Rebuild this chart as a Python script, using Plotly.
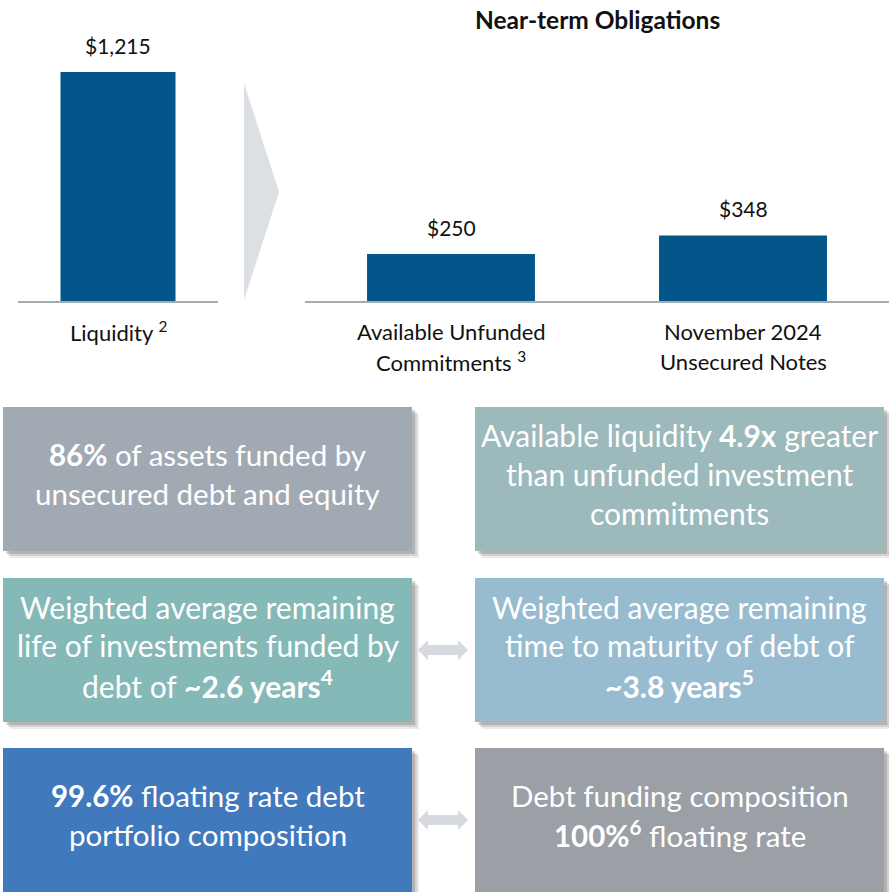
import plotly.graph_objects as go

# ---------------- data ----------------
liq_cats = ["Liquidity"]
liq_vals = [1215]
liq_labels = [["Liquidity <sup>2</sup>"]]

obl_cats = ["Available Unfunded Commitments", "November 2024 Unsecured Notes"]
obl_vals = [250, 348]
obl_labels = [["Available Unfunded", "Commitments <sup>3</sup>"],
              ["November 2024", "Unsecured Notes"]]

title_text = "<b>Near-term Obligations</b>"

box_lines = [
    ["<b>86%</b> of assets funded by", "unsecured debt and equity"],
    ["Available liquidity <b>4.9x</b> greater", "than unfunded investment", "commitments"],
    ["Weighted average remaining", "life of investments funded by", "debt of <b>~2.6 years<sup>4</sup></b>"],
    ["Weighted average remaining", "time to maturity of debt of", "<b>~3.8 years<sup>5</sup></b>"],
    ["<b>99.6%</b> floating rate debt", "portfolio composition"],
    ["Debt funding composition", "<b>100%<sup>6</sup></b> floating rate"],
]

# ---------------- style ----------------
W, H = 889, 892
FONT = "Lato"
BAR_COLOR = "#02568a"
AXIS_COLOR = "#a6abb1"
box_colors = ["#a1aab3", "#9cb9bb", "#85b9b8", "#98bccf", "#4179bd", "#9ba0a6"]
box_rects = [(3, 407, 412, 551), (475, 407, 884, 551),
             (3, 578, 412, 722), (475, 578, 884, 722),
             (3, 748, 412, 892), (475, 748, 884, 892)]
box_font = [29.5, 30, 30, 30, 29.5, 29.5]
LINE_GAP = 38.5

def px(x):
    return x / W

def py(y):
    return 1 - y / H

base_px = 301
bar_top_px = 72
ymax = liq_vals[0] * base_px / (base_px - bar_top_px)

fig = go.Figure()
fig.add_trace(go.Bar(x=liq_cats, y=liq_vals, xaxis="x", yaxis="y",
                     marker=dict(color=BAR_COLOR, line=dict(width=0)),
                     width=0.575, hoverinfo="skip"))
fig.add_trace(go.Bar(x=obl_cats, y=obl_vals, xaxis="x2", yaxis="y2",
                     marker=dict(color=BAR_COLOR, line=dict(width=0)),
                     width=0.575, hoverinfo="skip"))

ann = []
# value labels
for cats, vals, xr, yr in [(liq_cats, liq_vals, "x", "y"), (obl_cats, obl_vals, "x2", "y2")]:
    for c, v in zip(cats, vals):
        ann.append(dict(x=c, y=v, xref=xr, yref=yr, text=f"${v:,}", showarrow=False,
                        xanchor="center", yanchor="bottom", yshift=12,
                        font=dict(family=FONT, size=21, color="#111111")))
# category labels
for cats, labels, xr in [(liq_cats, liq_labels, "x"), (obl_cats, obl_labels, "x2")]:
    for c, lines in zip(cats, labels):
        for i, ln in enumerate(lines):
            ann.append(dict(x=c, y=py(332 + 30 * i), xref=xr, yref="paper", text=ln,
                            showarrow=False, xanchor="center", yanchor="middle",
                            font=dict(family=FONT, size=22, color="#111111")))
# title
ann.append(dict(x=px(597), y=py(19), xref="paper", yref="paper", text=title_text,
                showarrow=False, xanchor="center", yanchor="middle",
                font=dict(family=FONT, size=24.5, color="#111111")))

shapes = []
# chevron
shapes.append(dict(type="path", xref="paper", yref="paper",
                   path=f"M {px(244)} {py(83)} L {px(279)} {py(192)} L {px(244)} {py(300)} Z",
                   fillcolor="#dcdfe3", line=dict(width=0), layer="below"))
# boxes with soft shadows
for (x0, y0, x1, y1), col, lines, fs in zip(box_rects, box_colors, box_lines, box_font):
    for off, op in [(7, 0.10), (5, 0.14), (3, 0.2)]:
        shapes.append(dict(type="rect", xref="paper", yref="paper",
                           x0=px(x0 + off), x1=px(x1 + off), y0=py(y0 + off), y1=py(min(y1 + off, H)),
                           fillcolor="rgba(60,60,60,%s)" % op, line=dict(width=0), layer="below"))
    shapes.append(dict(type="rect", xref="paper", yref="paper",
                       x0=px(x0), x1=px(x1), y0=py(y0), y1=py(y1),
                       fillcolor=col, line=dict(width=0), layer="below"))
    cy = (y0 + y1) / 2 - 5
    n = len(lines)
    for i, ln in enumerate(lines):
        yy = cy + (i - (n - 1) / 2) * LINE_GAP
        ann.append(dict(x=px((x0 + x1) / 2), y=py(yy), xref="paper", yref="paper", text=ln,
                        showarrow=False, yanchor="middle", xanchor="center",
                        font=dict(family=FONT, size=fs, color="white")))

# double arrows
for cy in [650, 820]:
    pts = [(418, cy), (428, cy - 10), (428, cy - 5), (458, cy - 5), (458, cy - 10), (468, cy),
           (458, cy + 10), (458, cy + 5), (428, cy + 5), (428, cy + 10)]
    path = "M " + " L ".join(f"{px(a)} {py(b)}" for a, b in pts) + " Z"
    shapes.append(dict(type="path", xref="paper", yref="paper", path=path,
                       fillcolor="#d6d9de", line=dict(width=0), layer="below"))

ydom = [py(base_px), 1]
axis_common = dict(showline=True, linecolor=AXIS_COLOR, linewidth=2, showticklabels=False,
                   showgrid=False, zeroline=False, ticks="", fixedrange=True)
fig.update_layout(
    width=W, height=H, margin=dict(l=0, r=0, t=0, b=0),
    paper_bgcolor="white", plot_bgcolor="rgba(0,0,0,0)", showlegend=False,
    font=dict(family=FONT),
    xaxis=dict(domain=[px(18), px(218)], anchor="y", range=[-0.5, 0.5], **axis_common),
    xaxis2=dict(domain=[px(305), 1], anchor="y2", range=[-0.5, 1.5], **axis_common),
    yaxis=dict(domain=ydom, anchor="x", range=[0, ymax], visible=False, fixedrange=True),
    yaxis2=dict(domain=ydom, anchor="x2", range=[0, ymax], visible=False, fixedrange=True),
    annotations=ann, shapes=shapes,
)

fig.write_html("out.html", config={"displayModeBar": False},
               post_script="document.body.style.margin='0';document.body.style.overflow='hidden';")
